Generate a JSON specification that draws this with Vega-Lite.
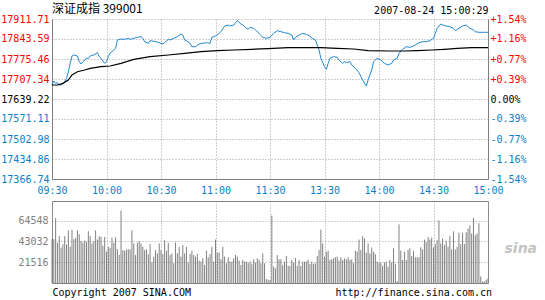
{
  "$schema": "https://vega.github.io/schema/vega-lite/v6.json",
  "background": "white",
  "padding": {"left": 0, "top": 3, "right": 0, "bottom": 0},
  "bounds": "flush",
  "spacing": 22,
  "config": {
    "font": "DejaVu Sans Mono",
    "axis": {
      "labelFont": "DejaVu Sans Mono",
      "labelFontSize": 10,
      "ticks": false,
      "gridDash": [1, 2],
      "gridColor": "#a0a0a0",
      "gridOpacity": 1,
      "gridWidth": 1,
      "domainColor": "#808080",
      "domainWidth": 1,
      "titleFont": "DejaVu Sans Mono",
      "titleFontWeight": "normal",
      "titleFontSize": 10,
      "titleColor": "#000000",
      "labelOverlap": false,
      "labelFlush": false
    }
  },
  "datasets": {
    "price": [
      {"t":0,"p":17686.9},{"t":1,"p":17700.5},{"t":2,"p":17692.6},{"t":3,"p":17694.8},{"t":4,"p":17686.9},{"t":5,"p":17686.9},
      {"t":7,"p":17698.2},{"t":8,"p":17709.6},{"t":9,"p":17732.2},{"t":10,"p":17760.7},{"t":11,"p":17785.7},{"t":12,"p":17789.1},
      {"t":14,"p":17785.7},{"t":15,"p":17766.2},{"t":16,"p":17758.4},{"t":17,"p":17766.2},{"t":19,"p":17777.7},{"t":20,"p":17777.7},
      {"t":21,"p":17785.7},{"t":23,"p":17789.1},{"t":25,"p":17797.0},{"t":26,"p":17783.4},{"t":27,"p":17777.7},{"t":29,"p":17760.7},
      {"t":30,"p":17766.2},{"t":31,"p":17783.4},{"t":32,"p":17797.0},{"t":33,"p":17800.4},{"t":35,"p":17811.8},{"t":36,"p":17840.2},
      {"t":38,"p":17843.6},{"t":40,"p":17842.5},{"t":42,"p":17845.8},{"t":43,"p":17842.5},{"t":45,"p":17845.8},{"t":47,"p":17849.2},
      {"t":49,"p":17851.5},{"t":50,"p":17845.8},{"t":51,"p":17834.5},{"t":53,"p":17828.8},{"t":54,"p":17837.9},{"t":55,"p":17836.8},
      {"t":57,"p":17834.5},{"t":59,"p":17831.1},{"t":61,"p":17826.5},{"t":62,"p":17831.1},{"t":64,"p":17842.5},{"t":65,"p":17840.2},
      {"t":67,"p":17845.8},{"t":69,"p":17851.5},{"t":71,"p":17860.6},{"t":72,"p":17857.2},{"t":73,"p":17840.2},{"t":74,"p":17837.9},
      {"t":76,"p":17828.8},{"t":77,"p":17817.4},{"t":79,"p":17817.4},{"t":81,"p":17826.5},{"t":83,"p":17828.8},{"t":85,"p":17831.1},
      {"t":87,"p":17828.8},{"t":88,"p":17849.2},{"t":90,"p":17853.8},{"t":92,"p":17862.9},{"t":93,"p":17868.5},{"t":95,"p":17887.8},
      {"t":97,"p":17891.2},{"t":98,"p":17887.8},{"t":100,"p":17891.2},{"t":102,"p":17906.0},{"t":104,"p":17894.7},{"t":105,"p":17891.2},
      {"t":107,"p":17880.0},{"t":108,"p":17876.6},{"t":109,"p":17883.4},{"t":111,"p":17880.0},{"t":112,"p":17874.2},{"t":114,"p":17862.9},
      {"t":116,"p":17849.2},{"t":118,"p":17845.8},{"t":120,"p":17849.2},{"t":122,"p":17862.9},{"t":124,"p":17871.8},{"t":126,"p":17868.5},
      {"t":128,"p":17865.0},{"t":130,"p":17862.9},{"t":132,"p":17857.2},{"t":133,"p":17840.2},{"t":134,"p":17849.2},{"t":136,"p":17857.2},
      {"t":138,"p":17862.9},{"t":140,"p":17859.5},{"t":142,"p":17853.8},{"t":143,"p":17845.8},{"t":145,"p":17840.2},{"t":146,"p":17823.1},
      {"t":147,"p":17806.1},{"t":148,"p":17777.7},{"t":150,"p":17749.2},{"t":151,"p":17740.4},{"t":152,"p":17760.7},{"t":153,"p":17777.7},
      {"t":155,"p":17783.4},{"t":157,"p":17781.2},{"t":158,"p":17772.0},{"t":160,"p":17760.7},{"t":161,"p":17766.2},{"t":162,"p":17763.0},
      {"t":164,"p":17766.2},{"t":165,"p":17755.0},{"t":167,"p":17743.6},{"t":169,"p":17728.9},{"t":171,"p":17703.9},{"t":173,"p":17683.5},
      {"t":174,"p":17703.9},{"t":176,"p":17738.0},{"t":177,"p":17766.2},{"t":179,"p":17777.7},{"t":181,"p":17772.0},{"t":183,"p":17760.7},
      {"t":185,"p":17755.0},{"t":187,"p":17760.7},{"t":188,"p":17772.0},{"t":190,"p":17777.7},{"t":191,"p":17794.8},{"t":193,"p":17808.5},
      {"t":195,"p":17817.4},{"t":197,"p":17815.2},{"t":199,"p":17819.7},{"t":200,"p":17823.1},{"t":202,"p":17831.1},{"t":204,"p":17834.5},
      {"t":206,"p":17834.5},{"t":208,"p":17837.9},{"t":210,"p":17845.8},{"t":211,"p":17862.9},{"t":212,"p":17880.0},{"t":214,"p":17894.7},
      {"t":215,"p":17891.2},{"t":217,"p":17887.8},{"t":219,"p":17885.5},{"t":221,"p":17880.0},{"t":222,"p":17871.8},{"t":224,"p":17880.0},
      {"t":226,"p":17887.8},{"t":228,"p":17891.2},{"t":230,"p":17880.0},{"t":232,"p":17874.2},{"t":233,"p":17868.5},{"t":235,"p":17866.4},
      {"t":238,"p":17866.4},{"t":240,"p":17866.4}
    ],
    "avg": [
      {"t":0,"a":17686.9},{"t":3,"a":17686.9},{"t":6,"a":17692.6},{"t":9,"a":17703.9},{"t":11,"a":17720.9},{"t":14,"a":17732.2},
      {"t":18,"a":17738.0},{"t":21,"a":17743.6},{"t":27,"a":17749.2},{"t":32,"a":17751.6},{"t":38,"a":17760.7},{"t":45,"a":17774.4},
      {"t":54,"a":17783.4},{"t":64,"a":17789.1},{"t":73,"a":17794.8},{"t":82,"a":17800.4},{"t":91,"a":17803.9},{"t":100,"a":17806.1},
      {"t":110,"a":17808.5},{"t":119,"a":17810.5},{"t":130,"a":17813.9},{"t":139,"a":17813.9},{"t":148,"a":17813.9},{"t":157,"a":17811.8},
      {"t":166,"a":17809.5},{"t":174,"a":17803.9},{"t":185,"a":17802.7},{"t":194,"a":17802.7},{"t":201,"a":17803.9},{"t":209,"a":17806.1},
      {"t":216,"a":17808.5},{"t":223,"a":17811.8},{"t":231,"a":17813.9},{"t":240,"a":17813.9}
    ],
    "vol": [
      {"t":0,"v":45420},{"t":1,"v":45420},{"t":2,"v":67276},{"t":3,"v":41663},{"t":4,"v":48493},{"t":5,"v":36541},{"t":6,"v":39956},{"t":7,"v":48493},
      {"t":8,"v":39956},{"t":9,"v":54640},{"t":10,"v":37565},{"t":11,"v":55323},{"t":12,"v":45420},{"t":13,"v":46786},{"t":14,"v":54640},{"t":15,"v":50542},
      {"t":16,"v":43712},{"t":17,"v":41663},{"t":18,"v":44054},{"t":19,"v":42688},{"t":20,"v":53616},{"t":21,"v":48493},{"t":22,"v":40980},{"t":23,"v":43371},
      {"t":24,"v":54640},{"t":25,"v":45078},{"t":26,"v":48493},{"t":27,"v":47810},{"t":28,"v":38590},{"t":29,"v":47810},{"t":30,"v":32443},{"t":31,"v":37565},
      {"t":32,"v":36541},{"t":33,"v":47127},{"t":34,"v":41663},{"t":35,"v":47469},{"t":36,"v":34833},{"t":37,"v":29028},{"t":38,"v":75130},{"t":39,"v":34150},
      {"t":40,"v":33467},{"t":41,"v":34833},{"t":42,"v":34833},{"t":43,"v":34833},{"t":44,"v":54640},{"t":45,"v":40980},{"t":46,"v":29028},{"t":47,"v":41663},
      {"t":48,"v":43371},{"t":49,"v":40980},{"t":50,"v":37565},{"t":51,"v":34150},{"t":52,"v":34833},{"t":53,"v":29711},{"t":54,"v":40297},{"t":55,"v":21173},
      {"t":56,"v":27320},{"t":57,"v":34150},{"t":58,"v":30735},{"t":59,"v":40980},{"t":60,"v":34150},{"t":61,"v":30052},{"t":62,"v":44395},{"t":63,"v":33467},
      {"t":64,"v":41663},{"t":65,"v":29028},{"t":66,"v":30735},{"t":67,"v":20490},{"t":68,"v":42005},{"t":69,"v":30735},{"t":70,"v":37565},{"t":71,"v":27320},
      {"t":72,"v":39273},{"t":73,"v":30735},{"t":74,"v":37565},{"t":75,"v":21173},{"t":76,"v":30052},{"t":77,"v":33467},{"t":78,"v":29028},{"t":79,"v":27320},
      {"t":80,"v":30052},{"t":81,"v":23222},{"t":82,"v":22198},{"t":83,"v":25613},{"t":84,"v":18783},{"t":85,"v":33467},{"t":86,"v":26637},{"t":87,"v":30052},
      {"t":88,"v":37565},{"t":89,"v":22198},{"t":90,"v":45078},{"t":91,"v":31418},{"t":92,"v":31418},{"t":93,"v":24588},{"t":94,"v":37565},{"t":95,"v":27320},
      {"t":96,"v":20490},{"t":97,"v":26637},{"t":98,"v":22198},{"t":99,"v":22198},{"t":100,"v":25613},{"t":101,"v":29028},{"t":102,"v":27320},{"t":103,"v":23222},
      {"t":104,"v":18783},{"t":105,"v":23905},{"t":106,"v":22198},{"t":107,"v":22198},{"t":108,"v":20490},{"t":109,"v":22198},{"t":110,"v":19466},{"t":111,"v":24588},
      {"t":112,"v":21173},{"t":113,"v":25613},{"t":114,"v":23905},{"t":115,"v":20490},{"t":116,"v":30735},{"t":117,"v":20490},{"t":118,"v":4098},{"t":119,"v":3400},
      {"t":120,"v":3000},{"t":121,"v":70008},{"t":122,"v":17075},{"t":123,"v":15368},{"t":124,"v":29028},{"t":125,"v":24588},{"t":126,"v":24588},{"t":127,"v":18783},
      {"t":128,"v":22198},{"t":129,"v":28003},{"t":130,"v":17758},{"t":131,"v":17758},{"t":132,"v":23905},{"t":133,"v":21173},{"t":134,"v":25954},{"t":135,"v":17758},
      {"t":136,"v":23905},{"t":137,"v":17758},{"t":138,"v":22198},{"t":139,"v":22198},{"t":140,"v":22198},{"t":141,"v":23905},{"t":142,"v":19807},{"t":143,"v":22198},
      {"t":144,"v":19807},{"t":145,"v":20490},{"t":146,"v":28003},{"t":147,"v":34150},{"t":148,"v":55323},{"t":149,"v":40980},{"t":150,"v":27320},{"t":151,"v":32443},
      {"t":152,"v":33467},{"t":153,"v":23905},{"t":154,"v":24588},{"t":155,"v":25613},{"t":156,"v":26637},{"t":157,"v":27320},{"t":158,"v":23222},{"t":159,"v":26637},
      {"t":160,"v":23905},{"t":161,"v":25613},{"t":162,"v":24588},{"t":163,"v":26637},{"t":164,"v":23905},{"t":165,"v":24588},{"t":166,"v":20490},{"t":167,"v":33467},
      {"t":168,"v":32443},{"t":169,"v":45078},{"t":170,"v":34150},{"t":171,"v":48493},{"t":172,"v":46103},{"t":173,"v":31418},{"t":174,"v":40980},{"t":175,"v":30735},
      {"t":176,"v":36882},{"t":177,"v":32443},{"t":178,"v":30052},{"t":179,"v":22198},{"t":180,"v":21173},{"t":181,"v":21173},{"t":182,"v":17758},{"t":183,"v":21173},
      {"t":184,"v":22198},{"t":185,"v":17075},{"t":186,"v":23905},{"t":187,"v":21173},{"t":188,"v":35858},{"t":189,"v":19807},{"t":190,"v":2000},{"t":191,"v":60787},
      {"t":192,"v":33467},{"t":193,"v":23905},{"t":194,"v":32443},{"t":195,"v":23905},{"t":196,"v":34150},{"t":197,"v":35858},{"t":198,"v":28003},{"t":199,"v":33467},
      {"t":200,"v":26637},{"t":201,"v":26637},{"t":202,"v":26637},{"t":203,"v":36882},{"t":204,"v":34833},{"t":205,"v":45078},{"t":206,"v":42346},{"t":207,"v":47810},
      {"t":208,"v":45078},{"t":209,"v":47127},{"t":210,"v":36882},{"t":211,"v":40297},{"t":212,"v":44395},{"t":213,"v":64885},{"t":214,"v":40980},{"t":215,"v":46103},
      {"t":216,"v":39273},{"t":217,"v":43712},{"t":218,"v":37565},{"t":219,"v":48493},{"t":220,"v":34833},{"t":221,"v":53616},{"t":222,"v":34833},{"t":223,"v":37565},
      {"t":224,"v":52250},{"t":225,"v":40297},{"t":226,"v":52250},{"t":227,"v":40297},{"t":228,"v":52591},{"t":229,"v":56348},{"t":230,"v":59763},{"t":231,"v":51225},
      {"t":232,"v":67617},{"t":233,"v":49518},{"t":234,"v":51225},{"t":235,"v":62000},{"t":236,"v":6800},{"t":237,"v":1700},{"t":238,"v":1700},{"t":239,"v":3400},
      {"t":240,"v":5100}
    ]
  },
  "resolve": {"scale": {"x": "independent", "y": "independent"}},
  "vconcat": [
    {
      "width": 436,
      "height": 160,
      "view": {"stroke": null},
      "title": {
        "text": "深证成指  399001",
        "anchor": "start",
        "frame": "group",
        "font": "Noto Sans CJK SC",
        "fontSize": 12,
        "fontWeight": "normal",
        "color": "#000000",
        "offset": -11
      },
      "layer": [
        {
          "data": {"name": "price"},
          "mark": {"type": "line", "color": "#2088d0", "strokeWidth": 1},
          "encoding": {
            "x": {
              "field": "t",
              "type": "quantitative",
              "scale": {"domain": [0, 240], "nice": false, "zero": false},
              "axis": {
                "orient": "bottom",
                "values": [0, 30, 60, 90, 120, 150, 180, 210, 240],
                "labelExpr": "['09:30','10:00','10:30','11:00','11:30','13:30','14:00','14:30','15:00'][round(datum.value / 30)]",
                "grid": true,
                "title": null,
                "labelColor": "#0a80c8",
                "labelPadding": 6
              }
            },
            "y": {
              "field": "p",
              "type": "quantitative",
              "scale": {"domain": [17366.74, 17911.71], "nice": false, "zero": false},
              "axis": {
                "orient": "left",
                "values": [17366.74, 17434.86, 17502.98, 17571.11, 17639.22, 17707.34, 17775.46, 17843.59, 17911.71],
                "format": ".2f",
                "grid": true,
                "title": null,
                "labelPadding": 3,
                "labelColor": {
                  "condition": [
                    {"test": "datum.value > 17640", "value": "#ff0000"},
                    {"test": "datum.value < 17638", "value": "#0a80c8"}
                  ],
                  "value": "#000000"
                }
              }
            }
          }
        },
        {
          "data": {"name": "avg"},
          "mark": {"type": "line", "color": "#000000", "strokeWidth": 1.2},
          "encoding": {
            "x": {
              "field": "t",
              "type": "quantitative",
              "axis": {
                "orient": "top",
                "labels": false,
                "grid": false,
                "domain": false,
                "title": "2007-08-24 15:00:29",
                "titleAnchor": "end",
                "titlePadding": 4
              }
            },
            "y": {
              "field": "a",
              "type": "quantitative",
              "axis": {
                "orient": "right",
                "values": [17366.74, 17434.86, 17502.98, 17571.11, 17639.22, 17707.34, 17775.46, 17843.59, 17911.71],
                "labelExpr": "(datum.value > 17640 ? '+' : datum.value < 17638 ? '-' : '') + format(abs(datum.value - 17639.22) / 17639.22 * 100, '.2f') + '%'",
                "grid": false,
                "title": null,
                "labelPadding": 2,
                "labelColor": {
                  "condition": [
                    {"test": "datum.value > 17640", "value": "#ff0000"},
                    {"test": "datum.value < 17638", "value": "#0a80c8"}
                  ],
                  "value": "#000000"
                }
              }
            }
          }
        }
      ],
      "resolve": {"axis": {"x": "independent", "y": "independent"}}
    },
    {
      "width": 436,
      "height": 82,
      "view": {"stroke": "#808080"},
      "layer": [
        {
          "data": {"name": "vol"},
          "mark": {"type": "rule", "color": "#808080", "strokeWidth": 1},
          "encoding": {
            "x": {
              "field": "t",
              "type": "quantitative",
              "scale": {"domain": [0, 240], "nice": false, "zero": false},
              "axis": {
                "values": [0, 30, 60, 90, 120, 150, 180, 210, 240],
                "labels": false,
                "domain": false,
                "grid": true,
                "title": "Copyright 2007 SINA.COM\u00a0\u00a0\u00a0\u00a0\u00a0\u00a0\u00a0\u00a0\u00a0\u00a0\u00a0\u00a0\u00a0\u00a0\u00a0\u00a0\u00a0\u00a0\u00a0\u00a0\u00a0\u00a0\u00a0\u00a0http://finance.sina.com.cn",
                "titleAnchor": "start",
                "titlePadding": 4
              }
            },
            "y": {
              "field": "v",
              "type": "quantitative",
              "scale": {"domain": [0, 85000], "nice": false, "zero": true},
              "axis": {
                "values": [21516, 43032, 64548],
                "format": "d",
                "grid": true,
                "domain": false,
                "title": null,
                "labelColor": "#808080",
                "labelPadding": 4
              }
            },
            "y2": {"datum": 0}
          }
        },
        {
          "data": {"name": "vol"},
          "mark": {"type": "rule", "opacity": 0},
          "encoding": {
            "y": {
              "field": "v",
              "type": "quantitative",
              "axis": {
                "orient": "right",
                "labels": false,
                "grid": false,
                "domain": false,
                "title": "sina",
                "titleAngle": 0,
                "titleAlign": "left",
                "titleBaseline": "middle",
                "titleY": 47,
                "titleFont": "DejaVu Sans",
                "titleFontStyle": "italic",
                "titleFontWeight": "bold",
                "titleFontSize": 14,
                "titleColor": "#c4c4c4",
                "titlePadding": 16
              }
            }
          }
        }
      ],
      "resolve": {"axis": {"y": "independent"}}
    }
  ]
}
